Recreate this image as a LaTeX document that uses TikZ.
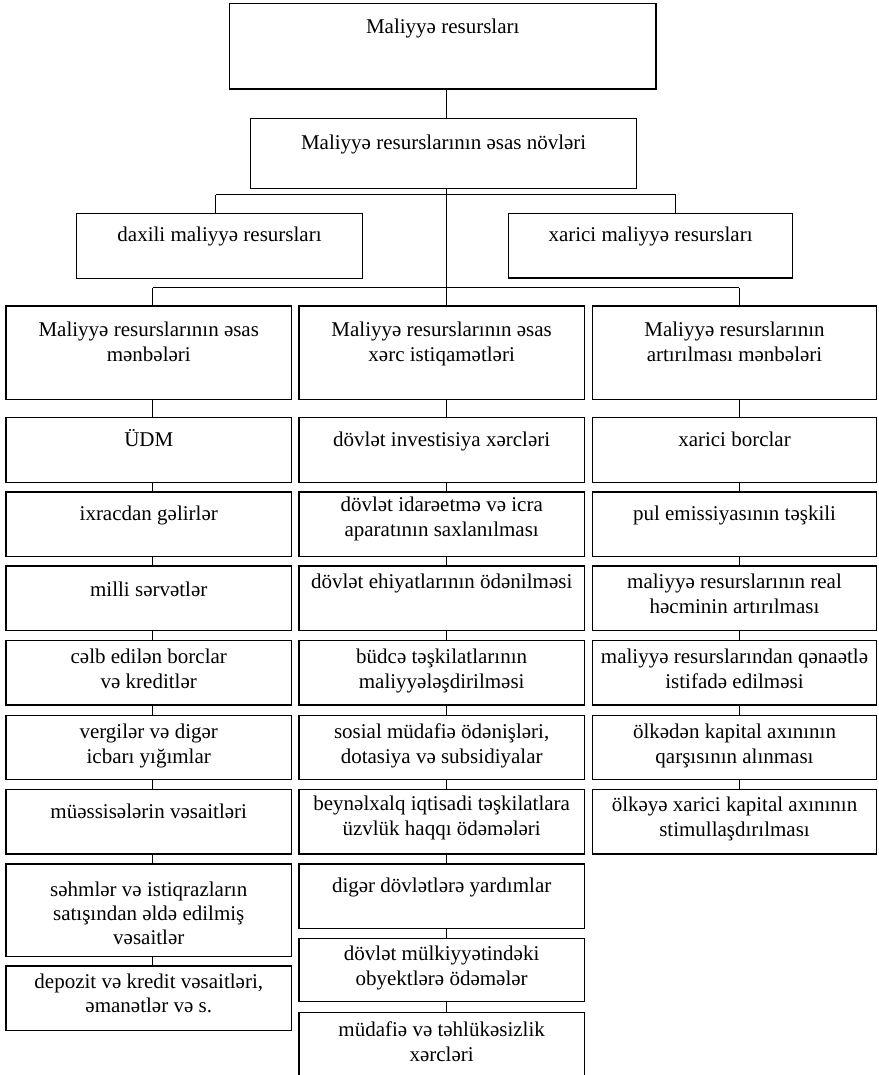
\documentclass[tikz,border=0pt]{standalone}
\usepackage{fontspec}
\setmainfont{Liberation Serif}
\tikzset{
  box/.style={draw=black, line width=1.4pt, inner sep=0pt, outer sep=0pt, rectangle},
  txt/.style={inner sep=0pt, outer sep=0pt, font=\fontsize{21}{25}\selectfont},
  conn/.style={draw=black, line width=1pt}
}
\newcommand\bt[7]{%
  \pgfmathsetmacro\bw{#4-#2}\pgfmathsetmacro\bh{#5-#3}\pgfmathsetmacro\bcx{(#2+#4)/2}%
  \node[box, minimum width=\bw pt, minimum height=\bh pt, anchor=north west] (#1) at (#2,#3) {};
  \node[txt, anchor=base] (#1-t) at (\bcx,#6) {\begin{tabular}[t]{@{}c@{}}#7\end{tabular}};}
\begin{document}
\begin{tikzpicture}[x=1pt,y=-1pt]
\useasboundingbox (0,0) rectangle (878,1075);
% top levels
\bt{top}{229.5}{3.3}{656}{89}{34}{Maliyyə resursları}
\bt{types}{250.7}{118.3}{636.6}{188.3}{149.5}{Maliyyə resurslarının əsas növləri}
\bt{dax}{76.7}{213.3}{362.3}{278.3}{242}{daxili maliyyə resursları}
\bt{xar}{508.4}{213.3}{792.7}{277.8}{242}{xarici maliyyə resursları}
% left column
\bt{L0}{6}{306}{291.5}{399.3}{336.7}{Maliyyə resurslarının əsas\\mənbələri}
\bt{L1}{6}{417.7}{291.5}{482.3}{446.7}{ÜDM}
\bt{L2}{6}{492}{291.5}{556.7}{520.7}{ixracdan gəlirlər}
\bt{L3}{6}{566}{291.5}{630.7}{596.4}{milli sərvətlər}
\bt{L4}{6}{640.7}{291.5}{705}{663}{cəlb edilən borclar\\və kreditlər}
\bt{L5}{6}{715.7}{291.5}{779.3}{738}{vergilər və digər\\icbarı yığımlar}
\bt{L6}{6}{789.3}{291.5}{854}{818}{müəssisələrin vəsaitləri}
\bt{L7}{6}{864}{291.5}{956.7}{896}{səhmlər və istiqrazların\\[-1pt]satışından əldə edilmiş\\[-1pt]vəsaitlər}
\bt{L8}{6}{966}{291.5}{1030.7}{988}{depozit və kredit vəsaitləri,\\[-1pt]əmanətlər və s.}
% middle column
\bt{M0}{299}{306}{584.3}{399.3}{336.7}{Maliyyə resurslarının əsas\\xərc istiqamətləri}
\bt{M1}{299}{417.7}{584.3}{482.3}{446.7}{dövlət investisiya xərcləri}
\bt{M2}{299}{492}{584.3}{556.7}{511.4}{dövlət idarəetmə və icra\\aparatının saxlanılması}
\bt{M3}{299}{566}{584.3}{630.7}{588}{dövlət ehiyatlarının ödənilməsi}
\bt{M4}{299}{640.7}{584.3}{705}{663}{büdcə təşkilatlarının\\maliyyələşdirilməsi}
\bt{M5}{299}{715.7}{584.3}{779.3}{738}{sosial müdafiə ödənişləri,\\dotasiya və subsidiyalar}
\bt{M6}{299}{789.3}{584.3}{854}{810}{beynəlxalq iqtisadi təşkilatlara\\üzvlük haqqı ödəmələri}
\bt{M7}{299}{864}{584.3}{928.3}{892}{digər dövlətlərə yardımlar}
\bt{M8}{299}{938.3}{584.3}{1001.7}{960}{dövlət mülkiyyətindəki\\obyektlərə ödəmələr}
\bt{M9}{299}{1012.3}{584.3}{1090}{1036.7}{müdafiə və təhlükəsizlik\\xərcləri}
% right column
\bt{R0}{592.3}{306}{876.7}{399.3}{336.7}{Maliyyə resurslarının\\artırılması mənbələri}
\bt{R1}{592.3}{417.7}{876.7}{482.3}{446.7}{xarici borclar}
\bt{R2}{592.3}{492}{876.7}{556.7}{520.7}{pul emissiyasının təşkili}
\bt{R3}{592.3}{566}{876.7}{630.7}{588}{maliyyə resurslarının real\\həcminin artırılması}
\bt{R4}{592.3}{640.7}{876.7}{705}{663}{maliyyə resurslarından qənaətlə\\istifadə edilməsi}
\bt{R5}{592.3}{715.7}{876.7}{779.3}{738}{ölkədən kapital axınının\\qarşısının alınması}
\bt{R6}{592.3}{789.3}{876.7}{854}{811}{ölkəyə xarici kapital axınının\\stimullaşdırılması}
% connector coordinates
\coordinate (xM) at (446,0);
\coordinate (xL) at (152.7,0);
\coordinate (xR) at (739,0);
\coordinate (hA) at (215.6,195);
\coordinate (hB) at (675.8,195);
\coordinate (gL) at (152.7,287.8);
\coordinate (gM) at (446,287.8);
\coordinate (gR) at (739,287.8);
% connectors
\draw[conn] (top.south -| xM) -- (types.north -| xM);
\draw[conn] (types.south -| xM) -- (gM);
\draw[conn] (hA) -- (hB);
\draw[conn] (hA) -- (dax.north -| hA);
\draw[conn] (hB) -- (xar.north -| hB);
\draw[conn] (gL) -- (gR);
\draw[conn] (gL) -- (L0.north -| gL);
\draw[conn] (gM) -- (M0.north -| gM);
\draw[conn] (gR) -- (R0.north -| gR);
\foreach \a/\b in {L0/L1,L1/L2,L2/L3,L3/L4,L4/L5,L5/L6,L6/L7,L7/L8}
  \draw[conn] (\a.south -| xL) -- (\b.north -| xL);
\foreach \a/\b in {M0/M1,M1/M2,M2/M3,M3/M4,M4/M5,M5/M6,M6/M7,M7/M8,M8/M9}
  \draw[conn] (\a.south -| xM) -- (\b.north -| xM);
\foreach \a/\b in {R0/R1,R1/R2,R2/R3,R3/R4,R4/R5,R5/R6}
  \draw[conn] (\a.south -| xR) -- (\b.north -| xR);
\end{tikzpicture}
\end{document}
